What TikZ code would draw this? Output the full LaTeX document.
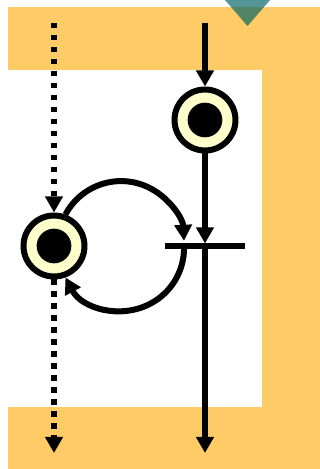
\documentclass[tikz,border=0pt]{standalone}
\usetikzlibrary{arrows.meta}
\definecolor{band}{RGB}{254,203,102}
\definecolor{placefill}{RGB}{255,255,204}
\definecolor{marker}{RGB}{0,100,100}
\begin{document}
\begin{tikzpicture}[x=0.75pt,y=0.75pt,
  place/.style={circle,draw,line width=4.5pt,fill=placefill,minimum size=45.75pt,inner sep=0pt,
    path picture={\fill[black] (path picture bounding box.center) circle (13pt);}},
  trans/.style={rectangle,fill=black,minimum width=60pt,minimum height=3.8pt,inner sep=0pt,outer sep=0pt},
  flow/.style={line width=4.5pt,-{Triangle[length=12pt,width=12.75pt]}},
  tokenflow/.style={flow,dash pattern=on 4.1pt off 4.9pt}]
\useasboundingbox (0,0) rectangle (320,469);

% background bands
\fill[band] (8,398.5) rectangle (320,462);
\fill[band] (262,0) rectangle (320,462);
\fill[band] (8,0) rectangle (320,62);
\fill[marker,opacity=0.68] (225,469) -- (270,469) -- (247.5,443) -- cycle;

\node[place] (p1) at (205,349) {};
\node[place] (p2) at (54,223) {};
\node[trans] (t1) at (205,223) {};

\coordinate (in1) at (205,446);
\coordinate (out1) at (205,16);
\coordinate (in2) at (54,446);
\coordinate (out2) at (54,16);

\draw[flow] (in1) -- (p1);
\draw[flow] (p1) -- (t1);
\draw[flow] (t1) -- (out1);

\draw[tokenflow] (in2) -- (p2);
\draw[tokenflow] (p2) -- (out2);

% loop back through the transition
\draw[flow] (p2.70) arc[start angle=152,end angle=3,radius=63];
\draw[flow,{Triangle[length=12pt,width=12.75pt]}-] (p2.-70) arc[start angle=-152,end angle=0,radius=63];
\end{tikzpicture}
\end{document}
